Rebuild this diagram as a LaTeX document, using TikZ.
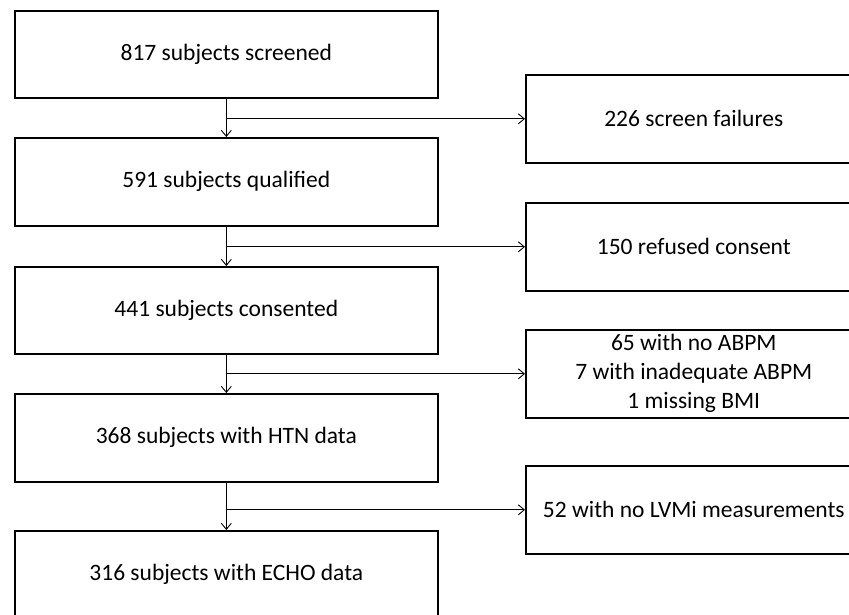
\documentclass[tikz,border=0pt]{standalone}
\usepackage{fontspec}
\setmainfont{Carlito}
\usetikzlibrary{arrows.meta}
\begin{document}
\begin{tikzpicture}[x=1pt,y=-1pt,
  box/.style={draw, line width=1.6pt, anchor=north west, inner sep=0pt, align=center,
    font=\fontsize{23.5}{29}\selectfont},
  conn/.style={line width=0.9pt, -{Straight Barb[length=6pt,width=10pt,line width=0.9pt]}}]
\useasboundingbox (0,0) rectangle (849,615);
\clip (0,0) rectangle (849,615);
\node[box, minimum width=423pt, minimum height=87pt] (a1) at (14,10) {817 subjects screened};
\node[box, minimum width=423pt, minimum height=88pt] (a2) at (14,137) {591 subjects qualified};
\node[box, minimum width=423pt, minimum height=87pt] (a3) at (14,266) {441 subjects consented};
\node[box, minimum width=423pt, minimum height=88pt] (a4) at (14,393) {368 subjects with HTN data};
\node[box, minimum width=423pt, minimum height=88pt] (a5) at (14,530) {316 subjects with ECHO data};
\node[box, minimum width=336pt, minimum height=88pt] (r1) at (525,74) {226 screen failures};
\node[box, minimum width=336pt, minimum height=88pt] (r2) at (525,202) {150 refused consent};
\node[box, minimum width=336pt, minimum height=88pt] (r3) at (525,329) {65 with no ABPM\\7 with inadequate ABPM\\1 missing BMI};
\node[box, minimum width=336pt, minimum height=88pt] (r4) at (525,465) {52 with no LVMi measurements};
\draw[conn] (a1.south) -- (a2.north);
\draw[conn] (a2.south) -- (a3.north);
\draw[conn] (a3.south) -- (a4.north);
\draw[conn] (a4.south) -- (a5.north);
\draw[conn] (a1.south |- r1.west) -- (r1.west);
\draw[conn] (a2.south |- r2.west) -- (r2.west);
\draw[conn] (a3.south |- r3.west) -- (r3.west);
\draw[conn] (a4.south |- r4.west) -- (r4.west);
\end{tikzpicture}
\end{document}
